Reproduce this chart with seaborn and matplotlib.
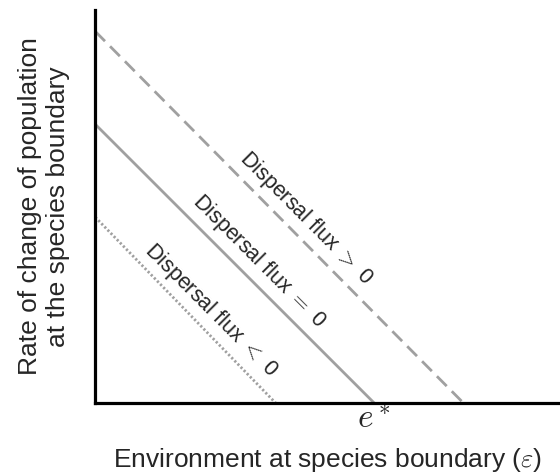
import pandas as pd
import seaborn as sns
import matplotlib.pyplot as plt

# conceptual lines: rate of change vs environment, one per dispersal regime
labels = ["Dispersal flux $>$ 0", "Dispersal flux $=$ 0", "Dispersal flux $<$ 0"]
y_start = [4.0, 3.0, 2.0]      # value at the left axis
x_end = [3.96, 3.0, 1.94]      # where each line hits zero
styles = [(0, (5, 2.6)), "-", (0, (0.8, 0.8))]
label_x = [2.27, 1.76, 1.24]
label_y = [1.99, 1.52, 1.00]
e_star = 3.0

rows = []
for lab, y0, x1 in zip(labels, y_start, x_end):
    rows.append({"flux": lab, "env": 0.0, "rate": y0})
    rows.append({"flux": lab, "env": x1, "rate": 0.0})
df = pd.DataFrame(rows)

sns.set_style("white")
plt.rcParams["font.family"] = ["Liberation Sans", "DejaVu Sans"]
plt.rcParams["mathtext.fontset"] = "cm"

fig = plt.figure(figsize=(5.6, 4.74), dpi=100)
ax = fig.add_axes([0.170, 0.150, 0.830, 0.829])

for lab, ls in zip(labels, styles):
    sns.lineplot(data=df[df["flux"] == lab], x="env", y="rate",
                 color="#a0a0a0", lw=2, ax=ax, legend=False)
    ax.lines[-1].set_linestyle(ls)

for lab, tx, ty in zip(labels, label_x, label_y):
    ax.text(tx, ty, lab, rotation=-45, rotation_mode="anchor",
            ha="center", va="center", fontsize=15.5)

ax.set_xlim(0, 5.0)
ax.set_ylim(0, 4.23)
ax.set_xticks([e_star])
ax.set_xticklabels(["$e^*$"], fontsize=24)
ax.set_yticks([])
ax.tick_params(axis="x", length=0, pad=1)

ax.set_xlabel("Environment at species boundary ($\\varepsilon$)", fontsize=19, labelpad=8)
ax.set_ylabel("Rate of change of population\nat the species boundary", fontsize=19, labelpad=18)

for s in ["top", "right"]:
    ax.spines[s].set_visible(False)
for s in ["left", "bottom"]:
    ax.spines[s].set_color("black")
    ax.spines[s].set_linewidth(2.3)

fig.savefig("out.png", dpi=100)
